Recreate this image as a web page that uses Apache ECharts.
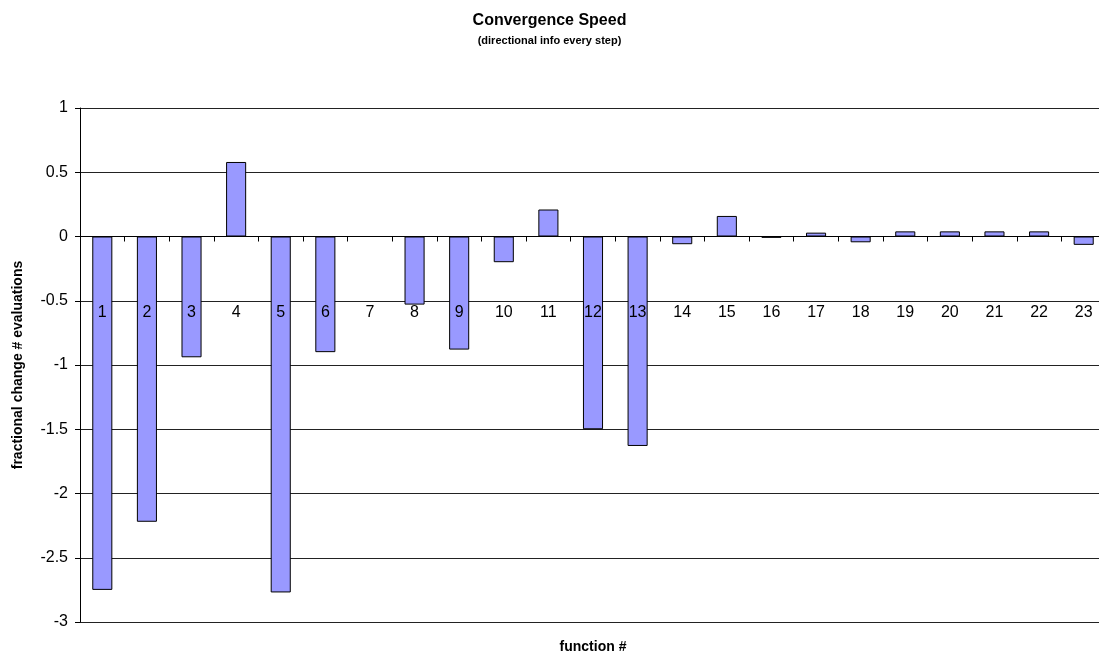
<!DOCTYPE html>
<html>
<head>
<meta charset="utf-8">
<script src="https://cdn.jsdelivr.net/npm/echarts@6/dist/echarts.min.js"></script>
<style>html,body{margin:0;padding:0;background:#fff}#c{width:1099px;height:662px}</style>
</head>
<body>
<div id="c"></div>
<script>
const categories = ['1','2','3','4','5','6','7','8','9','10','11','12','13','14','15','16','17','18','19','20','21','22','23'];
const values = [-2.75, -2.22, -0.94, 0.58, -2.77, -0.90, 0, -0.53, -0.88, -0.20, 0.21, -1.50, -1.63, -0.06, 0.16, -0.01, 0.03, -0.045, 0.04, 0.04, 0.04, 0.04, -0.065];
const yTicks = [-3, -2.5, -2, -1.5, -1, -0.5, 0, 0.5, 1];

const chart = echarts.init(document.getElementById('c'), null, {renderer: 'canvas'});
const font = 'Liberation Sans, Arial, sans-serif';
chart.setOption({
  animation: false,
  backgroundColor: '#fff',
  title: [{
    text: 'Convergence Speed',
    subtext: '(directional info every step)',
    left: 'center', top: 8, itemGap: 6,
    textStyle: {fontFamily: font, fontSize: 16, fontWeight: 'bold', color: '#000'},
    subtextStyle: {fontFamily: font, fontSize: 11, fontWeight: 'bold', color: '#000'}
  }, {
    text: 'function #',
    left: 588, top: 635, textAlign: 'center',
    textStyle: {fontFamily: font, fontSize: 14, fontWeight: 'bold', color: '#000'}
  }],
  grid: {left: 80, top: 108, width: 1026, height: 514, containLabel: false, outerBoundsMode: 'none'},
  xAxis: [{
    type: 'category',
    data: categories,
    axisLine: {onZero: true, lineStyle: {color: '#000', width: 1}},
    axisTick: {show: true, inside: false, length: 5, lineStyle: {color: '#000'}},
    axisLabel: {show: false},
    splitLine: {show: false}
  }, {
    type: 'category',
    data: categories,
    position: 'bottom',
    z: 10,
    axisLine: {show: false, onZero: false},
    axisTick: {show: false},
    axisLabel: {show: true, inside: true, fontFamily: font, fontSize: 16, color: '#000', margin: 301},
    splitLine: {show: false}
  }],
  yAxis: {
    type: 'value',
    min: -3, max: 1, interval: 0.5,
    name: 'fractional change # evaluations',
    nameLocation: 'middle',
    nameGap: 55,
    nameTextStyle: {fontFamily: font, fontSize: 14, fontWeight: 'bold', color: '#000'},
    axisLine: {show: true, lineStyle: {color: '#000', width: 1}},
    axisTick: {show: true, length: 5, lineStyle: {color: '#000'}},
    axisLabel: {fontFamily: font, fontSize: 16, color: '#000', margin: 12,
      formatter: v => (yTicks.includes(v) ? String(v) : '')},
    splitLine: {show: true, lineStyle: {color: '#222', width: 1}}
  },
  series: [{
    type: 'bar',
    data: values,
    barWidth: '45%',
    itemStyle: {color: '#9999FF', borderColor: '#000', borderWidth: 1}
  }]
});
</script>
</body>
</html>
